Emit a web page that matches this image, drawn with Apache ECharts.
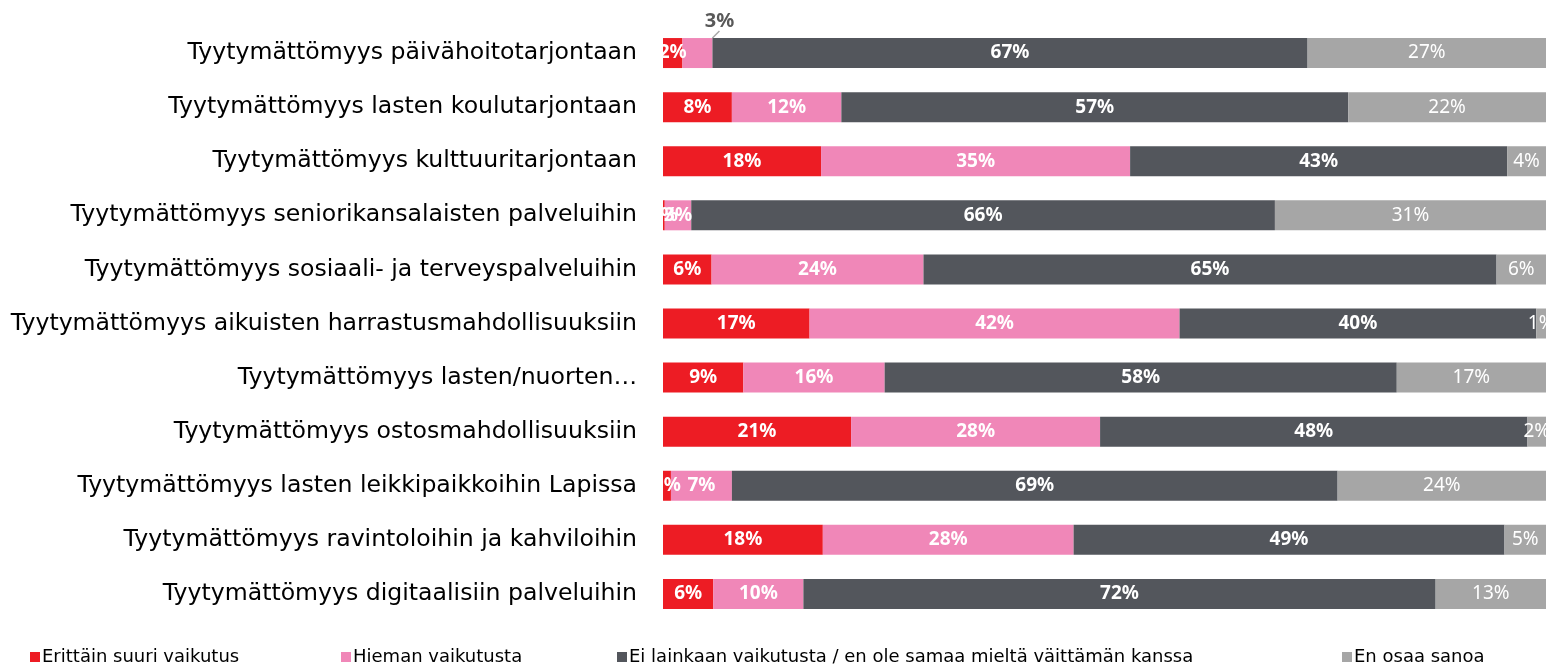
<!DOCTYPE html>
<html>
<head>
<meta charset="utf-8">
<script src="https://cdn.jsdelivr.net/npm/echarts@6/dist/echarts.min.js"></script>
<style>
  html, body { margin: 0; padding: 0; background: #fff; }
  #chart { width: 1548px; height: 668px; }
</style>
</head>
<body>
<div id="chart"></div>
<script>
  // kategoriat ylhäältä alas
  var categories = [
    'Tyytymättömyys päivähoitotarjontaan',
    'Tyytymättömyys lasten koulutarjontaan',
    'Tyytymättömyys kulttuuritarjontaan',
    'Tyytymättömyys seniorikansalaisten palveluihin',
    'Tyytymättömyys sosiaali- ja terveyspalveluihin',
    'Tyytymättömyys aikuisten harrastusmahdollisuuksiin',
    'Tyytymättömyys lasten/nuorten…',
    'Tyytymättömyys ostosmahdollisuuksiin',
    'Tyytymättömyys lasten leikkipaikkoihin Lapissa',
    'Tyytymättömyys ravintoloihin ja kahviloihin',
    'Tyytymättömyys digitaalisiin palveluihin'
  ];
  var seriesNames = [
    'Erittäin suuri vaikutus',
    'Hieman vaikutusta',
    'Ei lainkaan vaikutusta / en ole samaa mieltä väittämän kanssa',
    'En osaa sanoa'
  ];
  var erittain = [2.2, 7.8, 17.9, 0.2, 5.5, 16.6, 9.1, 21.3, 0.9, 18.1, 5.7];
  var hieman   = [3.4, 12.4, 35.0, 3.0, 24.0, 41.9, 16.0, 28.2, 6.9, 28.4, 10.2];
  var eiLainkaan = [67.4, 57.4, 42.7, 66.1, 64.9, 40.4, 58.0, 48.4, 68.6, 48.8, 71.6];
  var enOsaa   = [27.0, 22.4, 4.4, 30.7, 5.6, 1.1, 16.9, 2.1, 23.6, 4.7, 12.5];

  var colors = ['#ED1C24', '#F087B8', '#53565C', '#A6A6A6'];
  var font = 'DejaVu Sans';
  var labelFont = 'Noto Sans';

  var chart = echarts.init(document.getElementById('chart'));

  function pct(p) { return Math.round(p.value) + '%'; }

  var allData = [erittain, hieman, eiLainkaan, enOsaa];
  var series = [];
  for (var i = 0; i < allData.length; i++) {
    var d = allData[i].map(function (v, j) {
      if (i === 1 && j === 0) {
        // 3% näytetään palkin yläpuolella viivan kanssa
        return {
          value: v,
          label: { color: '#595959', fontWeight: 'bold', fontSize: 20 },
          labelLine: { show: true, lineStyle: { color: '#A6A6A6', width: 1.5 } }
        };
      }
      return v;
    });
    series.push({
      name: seriesNames[i],
      type: 'bar',
      stack: 'all',
      barWidth: 30,
      data: d,
      itemStyle: { color: colors[i] },
      label: {
        show: true,
        position: 'inside',
        color: '#fff',
        fontFamily: labelFont,
        fontSize: 19,
        fontWeight: i === 3 ? 'normal' : 'bold',
        formatter: pct
      }
    });
  }

  var legends = [];
  var legendLeft = [25, 336, 612, 1337];
  for (var k = 0; k < seriesNames.length; k++) {
    legends.push({
      data: [seriesNames[k]],
      left: legendLeft[k],
      top: 643,
      icon: 'rect',
      itemWidth: 10,
      itemHeight: 10,
      itemGap: 0,
      textStyle: { fontFamily: font, fontSize: 18, color: '#000', padding: [0, 0, 0, -3] }
    });
  }

  var option = {
    animation: false,
    color: colors,
    grid: { left: 663, right: 2, top: 26, bottom: 47 },
    xAxis: {
      type: 'value', min: 0, max: 100, show: false
    },
    yAxis: {
      type: 'category',
      inverse: true,
      data: categories,
      axisLine: { show: false },
      axisTick: { show: false },
      axisLabel: { margin: 26, color: '#000', fontFamily: font, fontSize: 23.6 }
    },
    legend: legends,
    labelLayout: function (params) {
      if (params.seriesIndex === 1 && params.dataIndex === 0) {
        return { dx: 22, dy: -32 };
      }
    },
    series: series
  };
  chart.setOption(option);
</script>
</body>
</html>
